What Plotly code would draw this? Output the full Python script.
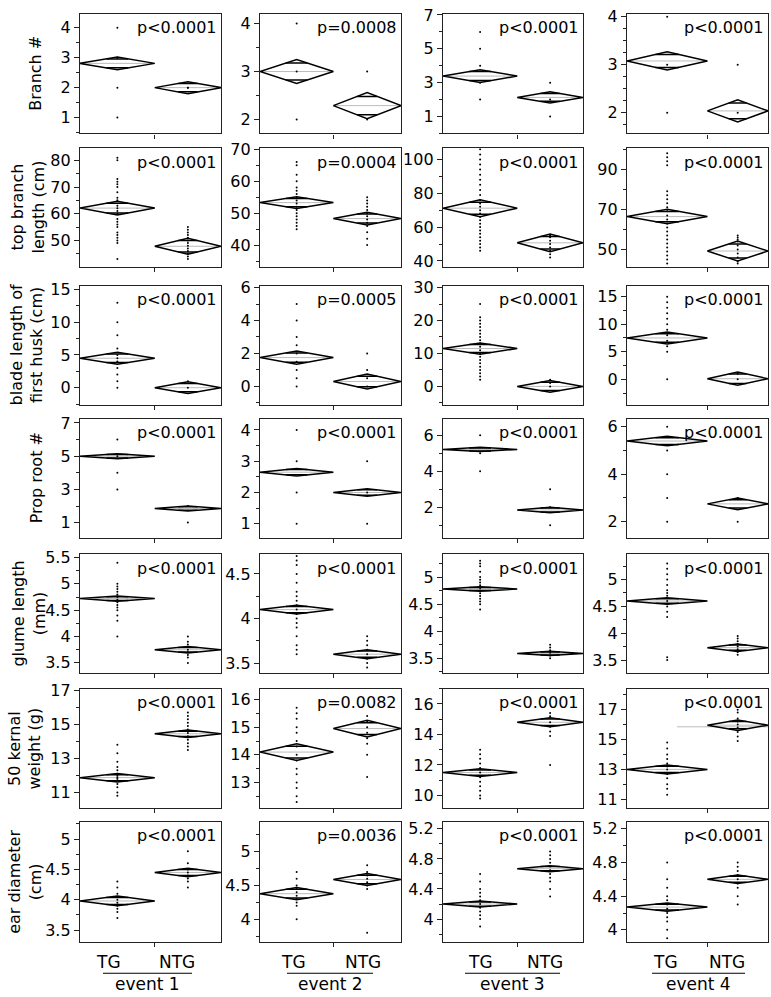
import plotly.graph_objects as go
import math

# ---------------- data ----------------
events = ["event 1", "event 2", "event 3", "event 4"]
groups = ["TG", "NTG"]
traits = ["Branch #", "top branch<br>length (cm)", "blade length of<br>first husk (cm)",
          "Prop root #", "glume length<br>(mm)", "50 kernal<br>weight (g)", "ear diameter<br>(cm)"]

p_values = [
    ["p<0.0001", "p=0.0008", "p<0.0001", "p<0.0001"],
    ["p<0.0001", "p=0.0004", "p<0.0001", "p<0.0001"],
    ["p<0.0001", "p=0.0005", "p<0.0001", "p<0.0001"],
    ["p<0.0001", "p<0.0001", "p<0.0001", "p<0.0001"],
    ["p<0.0001", "p<0.0001", "p<0.0001", "p<0.0001"],
    ["p<0.0001", "p=0.0082", "p<0.0001", "p<0.0001"],
    ["p<0.0001", "p=0.0036", "p<0.0001", "p<0.0001"],
]

tg_mean = [
    [2.81, 3.0, 3.39, 3.08],
    [62.1, 53.3, 71.2, 66.4],
    [4.5, 1.75, 11.5, 7.5],
    [5.0, 2.65, 5.21, 5.4],
    [4.72, 4.1, 4.78, 4.6],
    [11.87, 14.1, 11.5, 13.0],
    [3.98, 4.38, 4.2, 4.27],
]
tg_ci = [
    [0.21, 0.25, 0.38, 0.19],
    [2.6, 1.8, 5.0, 3.6],
    [0.9, 0.4, 1.7, 1.1],
    [0.15, 0.12, 0.12, 0.2],
    [0.05, 0.05, 0.04, 0.06],
    [0.25, 0.3, 0.25, 0.3],
    [0.08, 0.09, 0.04, 0.05],
]
ntg_mean = [
    [2.0, 2.29, 2.13, 2.04],
    [47.8, 48.3, 50.7, 49.2],
    [0.0, 0.3, 0.0, 0.1],
    [1.85, 2.0, 1.85, 2.75],
    [3.75, 3.6, 3.59, 3.73],
    [14.45, 14.95, 14.8, 15.96],
    [4.45, 4.59, 4.67, 4.6],
]
ntg_ci = [
    [0.2, 0.27, 0.33, 0.23],
    [3.0, 2.0, 5.2, 5.0],
    [0.9, 0.45, 1.8, 1.2],
    [0.15, 0.12, 0.15, 0.25],
    [0.06, 0.05, 0.04, 0.07],
    [0.22, 0.3, 0.3, 0.35],
    [0.07, 0.09, 0.04, 0.05],
]

# reference (grand-mean) line visible in the event 4 kernel-weight panel
kernel_e4_ref_line = 15.85

branch_tg = [[4, 3, 3, 2, 1], [4, 3, 2], [6, 5, 4, 3, 2], [4, 3, 2]]
branch_ntg = [[2, 2], [3, 2], [3, 2, 1], [3, 2]]

topbranch_tg = [
    [81, 80, 73, 72, 71, 70, 68, 66, 65, 63, 62, 61, 60, 58, 57, 56, 55, 53, 52, 51, 50, 49, 43],
    [66, 65, 62, 60, 58, 57, 56, 55, 54, 53, 52, 51, 50, 49, 48, 47, 46, 45],
    [106, 103, 100, 97, 94, 91, 88, 85, 82, 79, 76, 74, 72, 70, 68, 66, 64, 62, 60, 58, 56, 54, 52, 50, 48, 46],
    [98, 96, 94, 92, 79, 77, 75, 73, 71, 69, 67, 65, 63, 61, 59, 57, 55, 53, 51, 49, 47, 45, 43],
]
topbranch_ntg = [
    [55, 54, 53, 52, 51, 50, 49, 48, 47, 46, 45, 44, 43],
    [55, 54, 53, 52, 51, 50, 49, 48, 47, 46, 44, 42, 40],
    [55, 54, 52, 50, 48, 46, 44, 42],
    [57, 56, 55, 54, 52, 50, 48, 46, 44, 43],
]

blade_tg = [
    [13, 10, 8, 6, 5, 4.5, 4, 3, 2, 1, 0],
    [5, 4, 3, 2.5, 2, 1.5, 1, 0.5, 0],
    [25, 21, 20, 19, 18, 17, 16, 15, 14, 13, 12, 11, 10, 9, 8, 7, 6, 5, 4, 3, 2],
    [15, 14, 13, 12, 11, 10, 9, 8, 7, 6, 5, 0],
]
blade_ntg = [[1, 0], [2, 1, 0.5, 0], [2, 1, 0], [1, 0]]

prop_tg = [[6, 5, 4, 3], [4, 3, 2, 1], [6, 5, 4], [6, 5, 4, 3, 2]]
prop_ntg = [[2, 1], [3, 2, 1], [3, 2, 1], [3, 2]]

glume_tg = [
    [5.4, 5.0, 4.95, 4.9, 4.85, 4.8, 4.75, 4.7, 4.65, 4.6, 4.55, 4.5, 4.4, 4.3, 4.0],
    [4.7, 4.65, 4.6, 4.5, 4.4, 4.3, 4.25, 4.2, 4.15, 4.1, 4.05, 4.0, 3.95, 3.9, 3.8, 3.7, 3.65, 3.6],
    [5.3, 5.25, 5.2, 5.1, 5.0, 4.95, 4.9, 4.85, 4.8, 4.75, 4.7, 4.65, 4.6, 4.55, 4.5, 4.4],
    [5.3, 5.2, 5.1, 5.0, 4.9, 4.8, 4.75, 4.7, 4.65, 4.6, 4.55, 4.5, 4.4, 4.3, 3.55, 3.5],
]
glume_ntg = [
    [4.0, 3.9, 3.85, 3.8, 3.75, 3.7, 3.65, 3.6, 3.5],
    [3.8, 3.75, 3.7, 3.65, 3.6, 3.55, 3.5, 3.45],
    [3.75, 3.7, 3.65, 3.6, 3.55, 3.5],
    [3.95, 3.9, 3.85, 3.8, 3.75, 3.7, 3.65, 3.6],
]

kernel_tg = [
    [13.8, 13.3, 12.8, 12.5, 12.3, 12.1, 12.0, 11.9, 11.8, 11.7, 11.5, 11.3, 11.0, 10.8],
    [15.7, 15.5, 15.3, 15.0, 14.8, 14.5, 14.3, 14.0, 13.8, 13.5, 13.3, 13.0, 12.8, 12.5, 12.3],
    [13.0, 12.7, 12.4, 12.1, 11.8, 11.5, 11.2, 10.9, 10.6, 10.3, 10.0, 9.8],
    [14.8, 14.4, 14.0, 13.7, 13.4, 13.2, 13.0, 12.7, 12.4, 12.0, 11.7, 11.3],
]
kernel_ntg = [
    [15.7, 15.5, 15.3, 15.1, 14.9, 14.7, 14.5, 14.3, 14.1, 13.9, 13.7, 13.5],
    [15.4, 15.2, 15.0, 14.8, 14.6, 14.4, 14.0, 13.2],
    [15.4, 15.2, 14.8, 14.5, 14.2, 13.9, 12.0],
    [17.0, 16.8, 16.4, 16.2, 16.0, 15.8, 15.5, 15.2, 14.9],
]

ear_tg = [
    [4.3, 4.2, 4.1, 4.05, 4.0, 3.95, 3.9, 3.85, 3.8, 3.7],
    [4.7, 4.6, 4.5, 4.45, 4.4, 4.35, 4.3, 4.25, 4.2, 4.0],
    [4.6, 4.5, 4.4, 4.35, 4.3, 4.25, 4.2, 4.15, 4.1, 4.05, 4.0, 3.9],
    [4.8, 4.6, 4.5, 4.4, 4.35, 4.3, 4.25, 4.2, 4.15, 4.1, 4.0, 3.9],
]
ear_ntg = [
    [4.8, 4.6, 4.5, 4.45, 4.4, 4.35, 4.3, 4.2],
    [4.8, 4.7, 4.65, 4.6, 4.55, 4.5, 4.45, 3.8],
    [4.9, 4.85, 4.8, 4.75, 4.7, 4.65, 4.6, 4.55, 4.5, 4.4, 4.3],
    [4.8, 4.75, 4.7, 4.65, 4.6, 4.55, 4.5, 4.4, 4.3],
]

points_tg = [branch_tg, topbranch_tg, blade_tg, prop_tg, glume_tg, kernel_tg, ear_tg]
points_ntg = [branch_ntg, topbranch_ntg, blade_ntg, prop_ntg, glume_ntg, kernel_ntg, ear_ntg]

# ---------------- layout config ----------------
W, H = 771, 997
cols_px = [(80, 221), (260, 401), (443, 583), (627, 768)]
rows_px = [(6, 127), (142, 262), (281, 402), (416, 536), (553, 673), (689, 810), (824, 945)]
tg_frac = [0.53, 0.52, 0.53, 0.57]  # share of x-axis width for TG group (sample size)

# y ranges, major dtick, tick0, minor dtick
yaxis_cfg = [
    [([0.47, 4.46], 1, 0, 0.5), ([1.71, 4.2], 1, 0, 0.5), ([0, 7.06], 2, 1, 1), ([1.57, 4.06], 1, 0, 0.25)],
    [([40.1, 84.5], 10, 0, 5), ([33.2, 70.3], 10, 0, 5), ([36.5, 106.6], 20, 0, 10), ([41.3, 100.5], 20, 10, 10)],
    [([-2.67, 15.6], 5, 0, 2.5), ([-1.14, 6.12], 2, 0, 1), ([-5.7, 30.6], 10, 0, 5), ([-4.7, 17], 5, 0, 2.5)],
    [([0.1, 7.24], 2, 1, 1), ([0.56, 4.35], 1, 0, 0.5), ([0.32, 6.9], 2, 0, 1), ([1.33, 6.33], 2, 0, 1)],
    [([3.31, 5.56], 0.5, 0, 0.25), ([3.39, 4.72], 0.5, 0, 0.25), ([3.23, 5.42], 0.5, 0, 0.25), ([3.26, 5.47], 0.5, 0, 0.25)],
    [([10.07, 17.1], 2, 1, 1), ([12.07, 16.39], 1, 0, 0.5), ([9.16, 17.0], 2, 0, 1), ([10.4, 18.4], 2, 1, 1)],
    [([3.31, 5.28], 0.5, 0, 0.25), ([3.67, 5.44], 0.5, 0, 0.25), ([3.7, 5.29], 0.4, 0, 0.2), ([3.86, 5.28], 0.4, 0, 0.2)],
]
title_x_px = [36, 28, 27, 36, 29, 25, 25]

FONT = "DejaVu Sans"
fig = go.Figure()
layout_axes = {}
annotations = []
shapes = []


def px_x(x):
    return x / W


def px_y(y):
    return 1 - y / H


k = 0
for r in range(7):
    for c in range(4):
        k += 1
        xa = "x" if k == 1 else f"x{k}"
        ya = "y" if k == 1 else f"y{k}"
        f = tg_frac[c]
        yr, dt, t0, mdt = yaxis_cfg[r][c]
        if r == 5 and c == 3:
            fig.add_trace(go.Scatter(x=[0.355, 1.0], y=[kernel_e4_ref_line] * 2, mode="lines",
                                     line=dict(color="#bbbbbb", width=1),
                                     xaxis=xa, yaxis=ya, showlegend=False, hoverinfo="skip"))
        for (m, ci, x0, x1) in [(tg_mean[r][c], tg_ci[r][c], 0.0, f),
                                (ntg_mean[r][c], ntg_ci[r][c], f, 1.0)]:
            xc = (x0 + x1) / 2
            fig.add_trace(go.Scatter(x=[x0, x1], y=[m, m], mode="lines",
                                     line=dict(color="#bbbbbb", width=1),
                                     xaxis=xa, yaxis=ya, showlegend=False, hoverinfo="skip"))
            fig.add_trace(go.Scatter(x=[x0, xc, x1, xc, x0], y=[m, m + ci, m, m - ci, m],
                                     mode="lines", line=dict(color="black", width=1.5),
                                     xaxis=xa, yaxis=ya, showlegend=False, hoverinfo="skip"))
            d = ci / math.sqrt(2)
            hw = (x1 - x0) / 2 * (1 - 1 / math.sqrt(2))
            for s in (1, -1):
                fig.add_trace(go.Scatter(x=[xc - hw, xc + hw], y=[m + s * d, m + s * d], mode="lines",
                                         line=dict(color="black", width=1.5),
                                         xaxis=xa, yaxis=ya, showlegend=False, hoverinfo="skip"))
        tg_pts = points_tg[r][c]
        ntg_pts = points_ntg[r][c]
        fig.add_trace(go.Scatter(x=[f / 2] * len(tg_pts) + [(1 + f) / 2] * len(ntg_pts),
                                 y=tg_pts + ntg_pts, mode="markers",
                                 marker=dict(color="black", size=2),
                                 xaxis=xa, yaxis=ya, showlegend=False, hoverinfo="skip"))
        x0p, x1p = cols_px[c]
        y0p, y1p = rows_px[r]
        layout_axes["xaxis" if k == 1 else f"xaxis{k}"] = dict(
            domain=[px_x(x0p), px_x(x1p)], range=[0, 1], anchor=ya,
            showline=True, mirror=True, linecolor="#222", linewidth=1.3,
            tickvals=[f], ticktext=[""], ticks="outside", ticklen=4, tickcolor="#222",
            showgrid=False, zeroline=False, fixedrange=True)
        layout_axes["yaxis" if k == 1 else f"yaxis{k}"] = dict(
            domain=[px_y(y1p), px_y(y0p)], range=yr, anchor=xa,
            showline=True, mirror=True, linecolor="#222", linewidth=1.3,
            tick0=t0, dtick=dt, ticks="outside", ticklen=5, tickcolor="#222",
            minor=dict(dtick=mdt, tick0=t0, ticks="outside", ticklen=3, tickcolor="#222"),
            tickfont=dict(family=FONT, size=16, color="black"),
            showgrid=False, zeroline=False, fixedrange=True)
        annotations.append(dict(text=p_values[r][c], x=px_x(x1p - 2), y=px_y(y0p + 14),
                                xref="paper", yref="paper", xanchor="right", yanchor="middle",
                                showarrow=False, font=dict(family=FONT, size=16, color="black")))
    annotations.append(dict(text=traits[r], x=px_x(title_x_px[r]), y=px_y((rows_px[r][0] + rows_px[r][1]) / 2),
                            xref="paper", yref="paper", xanchor="center", yanchor="middle",
                            textangle=-90, showarrow=False,
                            font=dict(family=FONT, size=16, color="black")))

label_offsets = [(28, 97, 23, 112), (33, 103, 27, 113), (37, 102, 22, 117), (38, 100, 25, 118)]
for c in range(4):
    left = cols_px[c][0]
    tgo, ntgo, l0, l1 = label_offsets[c]
    annotations.append(dict(text=groups[0], x=px_x(left + tgo), y=px_y(966), xref="paper", yref="paper",
                            xanchor="center", yanchor="middle", showarrow=False,
                            font=dict(family=FONT, size=17, color="black")))
    annotations.append(dict(text=groups[1], x=px_x(left + ntgo), y=px_y(966), xref="paper", yref="paper",
                            xanchor="center", yanchor="middle", showarrow=False,
                            font=dict(family=FONT, size=17, color="black")))
    shapes.append(dict(type="line", xref="paper", yref="paper", x0=px_x(left + l0), x1=px_x(left + l1),
                       y0=px_y(977), y1=px_y(977), line=dict(color="black", width=1.2)))
    annotations.append(dict(text=events[c], x=px_x(left + (l0 + l1) / 2), y=px_y(988), xref="paper", yref="paper",
                            xanchor="center", yanchor="middle", showarrow=False,
                            font=dict(family=FONT, size=17, color="black")))

fig.update_layout(
    width=W, height=H, margin=dict(l=0, r=0, t=0, b=0),
    paper_bgcolor="white", plot_bgcolor="white",
    annotations=annotations, shapes=shapes, showlegend=False,
    **layout_axes,
)
fig.write_html("out.html", config={"displayModeBar": False},
               post_script="document.body.style.margin='0';document.body.style.overflow='hidden';")
